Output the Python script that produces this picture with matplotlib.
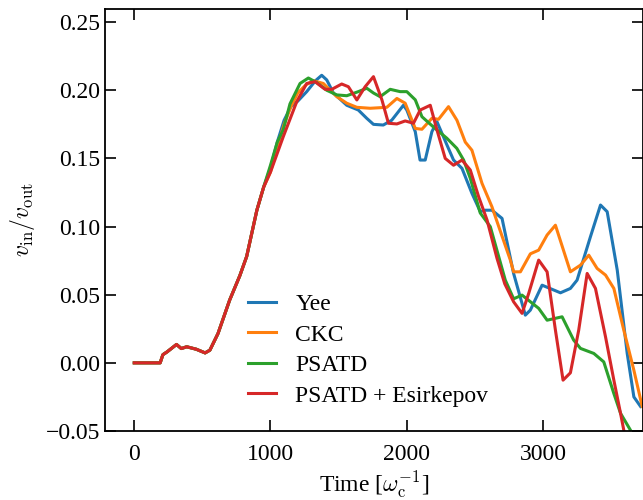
import matplotlib
matplotlib.use('Agg')
import matplotlib.pyplot as plt

plt.rcParams['font.family'] = ['Liberation Serif', 'DejaVu Serif']
plt.rcParams['mathtext.fontset'] = 'cm'
plt.rcParams['font.size'] = 17

# shared early growth phase (all four runs overlap)
t_early = [0, 100, 190, 210, 240, 310, 345, 385, 455, 520, 555, 615, 700, 775, 825, 900, 950]
v_early = [0.0, 0.0, 0.0, 0.006, 0.008, 0.0135, 0.0105, 0.0118, 0.010, 0.0073, 0.0093,
           0.0216, 0.046, 0.064, 0.078, 0.112, 0.129]

t_yee = [1000, 1050, 1100, 1150, 1200, 1266, 1330, 1376, 1413, 1462, 1560, 1645, 1707, 1756,
         1828, 1890, 1976, 2001, 2063, 2098, 2136, 2185, 2222, 2295, 2344, 2406, 2479, 2540,
         2577, 2626, 2700, 2785, 2871, 2908, 2994, 3129, 3202, 3251, 3349, 3423, 3472, 3546,
         3619, 3668, 3717]
v_yee = [0.143, 0.162, 0.178, 0.188, 0.192, 0.199, 0.207, 0.211, 0.2076, 0.198, 0.189, 0.1855,
         0.1794, 0.175, 0.1745, 0.178, 0.189, 0.1855, 0.1696, 0.1488, 0.1488, 0.1696, 0.177,
         0.160, 0.1488, 0.1427, 0.1244, 0.111, 0.112, 0.112, 0.106, 0.0656, 0.035, 0.0387,
         0.057, 0.0514, 0.0546, 0.0607, 0.0925, 0.1158, 0.1109, 0.068, 0.0069, -0.025, -0.032]

t_ckc = [1000, 1050, 1100, 1150, 1200, 1260, 1315, 1388, 1487, 1560, 1634, 1732, 1854, 1928,
         1989, 2063, 2112, 2185, 2234, 2307, 2369, 2430, 2479, 2553, 2626, 2700, 2761, 2785,
         2835, 2908, 2969, 3031, 3092, 3202, 3276, 3337, 3398, 3460, 3521, 3594, 3668, 3729]
v_ckc = [0.140, 0.158, 0.175, 0.188, 0.198, 0.204, 0.207, 0.205, 0.1953, 0.1905, 0.1875,
         0.1868, 0.1875, 0.194, 0.1905, 0.172, 0.1714, 0.1794, 0.1787, 0.188, 0.178, 0.162,
         0.156, 0.1317, 0.1145, 0.093, 0.0754, 0.0668, 0.0668, 0.080, 0.0827, 0.0938, 0.101,
         0.0668, 0.0717, 0.079, 0.0693, 0.0644, 0.0546, 0.024, -0.0054, -0.032]

t_psatd = [1000, 1050, 1094, 1143, 1217, 1278, 1340, 1413, 1487, 1560, 1645, 1707, 1756, 1805,
           1879, 1952, 2001, 2063, 2112, 2197, 2295, 2368, 2418, 2467, 2540, 2614, 2724, 2785,
           2847, 2969, 3031, 3141, 3226, 3276, 3374, 3447, 3521, 3570, 3643, 3700]
v_psatd = [0.145, 0.162, 0.171, 0.19, 0.205, 0.209, 0.2056, 0.200, 0.1966, 0.196, 0.199,
           0.2015, 0.198, 0.1953, 0.2007, 0.199, 0.199, 0.193, 0.1806, 0.173, 0.1648, 0.1574,
           0.1488, 0.1354, 0.110, 0.0999, 0.0607, 0.047, 0.0497, 0.040, 0.0313, 0.0338, 0.0167,
           0.0106, 0.0069, 0.0007, -0.0225, -0.037, -0.0494, -0.06]

t_esirk = [1000, 1094, 1193, 1266, 1327, 1401, 1450, 1523, 1572, 1634, 1695, 1756, 1818, 1866,
           1928, 1989, 2050, 2099, 2173, 2222, 2283, 2344, 2406, 2467, 2528, 2590, 2663, 2720,
           2785, 2847, 2896, 2969, 3031, 3092, 3148, 3202, 3263, 3325, 3386, 3460, 3521, 3570,
           3594, 3650]
v_esirk = [0.140, 0.166, 0.1917, 0.205, 0.2063, 0.2007, 0.2007, 0.2046, 0.2026, 0.1929,
           0.2026, 0.21, 0.193, 0.1758, 0.1753, 0.1775, 0.1758, 0.1855, 0.189, 0.171, 0.150,
           0.145, 0.1488, 0.1415, 0.122, 0.1048, 0.0767, 0.058, 0.0448, 0.0363, 0.051, 0.0754,
           0.0668, 0.024, -0.0127, -0.0073, 0.024, 0.0656, 0.0546, 0.019, -0.0127, -0.037,
           -0.0494, -0.07]

series = [
    ('Yee', t_yee, v_yee, 'tab:blue'),
    ('CKC', t_ckc, v_ckc, 'tab:orange'),
    ('PSATD', t_psatd, v_psatd, 'tab:green'),
    ('PSATD + Esirkepov', t_esirk, v_esirk, 'tab:red'),
]

fig = plt.figure(figsize=(6.43, 5.0), dpi=100)
ax = fig.add_axes([0.1633, 0.138, 0.8367, 0.845])

for label, t, v, c in series:
    ax.plot(t_early + t, v_early + v, color=c, lw=2.2, label=label)

ax.set_xlim(-215, 3735)
ax.set_ylim(-0.05, 0.26)
ax.set_xticks([0, 1000, 2000, 3000])
ax.set_yticks([-0.05, 0.0, 0.05, 0.10, 0.15, 0.20, 0.25])
ax.tick_params(direction='in', top=True, right=True, length=8, width=1.2)
ax.tick_params(axis='x', pad=9)
for s in ax.spines.values():
    s.set_linewidth(1.3)

ax.set_xlabel(r'Time [$\omega_{\rm c}^{-1}$]', labelpad=3)
ax.set_ylabel(r'$v_{\rm in}/v_{\rm out}$', labelpad=6)

ax.legend(loc='center left', bbox_to_anchor=(0.371, 0.300), bbox_transform=fig.transFigure,
          frameon=False, handlelength=1.2, labelspacing=0.38, borderaxespad=0)

plt.savefig('out.png', dpi=100)
